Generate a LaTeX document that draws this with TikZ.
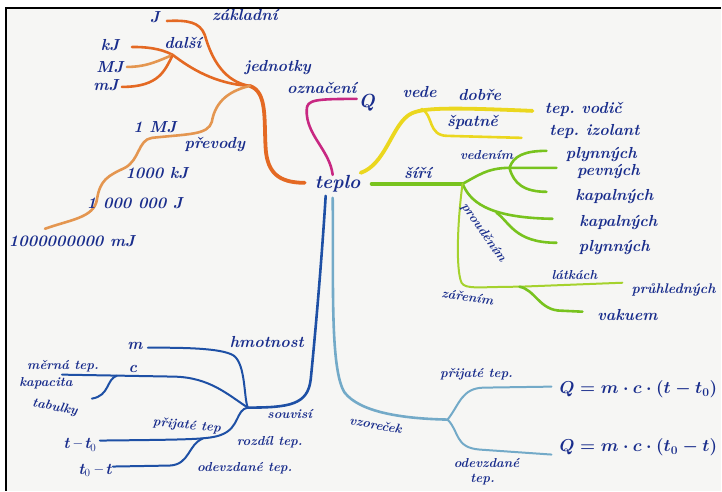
\documentclass[tikz,border=0pt]{standalone}
\usepackage{fontspec}
\definecolor{ink}{RGB}{25,45,140}
\definecolor{paper}{RGB}{246,246,244}
\definecolor{orA}{RGB}{228,105,35}
\definecolor{orB}{RGB}{228,150,80}
\definecolor{mag}{RGB}{200,40,130}
\definecolor{yel}{RGB}{235,215,30}
\definecolor{grA}{RGB}{120,195,30}
\definecolor{grB}{RGB}{165,210,45}
\definecolor{blA}{RGB}{30,80,165}
\definecolor{blB}{RGB}{115,170,200}
\begin{document}
\frenchspacing
\begin{tikzpicture}[x=1pt,y=-1pt,
  lab/.style={text=ink,font=\bfseries\itshape\fontsize{16}{18}\selectfont,inner sep=0pt},
  sml/.style={text=ink,font=\bfseries\itshape\fontsize{13}{15}\selectfont,inner sep=0pt},
  big/.style={text=ink,font=\bfseries\itshape\fontsize{19}{21}\selectfont,inner sep=0pt},
  eq/.style={text=ink,font=\boldmath\fontsize{18}{20}\selectfont,inner sep=0pt},
  trunk/.style={line width=3.8pt,line cap=round},
  twig/.style={line width=2.6pt,line cap=round},
  pen/.style={line width=2pt,line cap=round}]
% paper and frame
\fill[white] (0,0) rectangle (722,491);
\fill[paper] (6,8) rectangle (722,491);
\draw[black,line width=1.4pt] (6,491) -- (6,8) -- (722,8);
\useasboundingbox (0,0) rectangle (722,491);

% centre
\node[big] (teplo) at (338,184) {teplo};
\coordinate (tW) at (305,183);
\coordinate (tN) at (333,175);
\coordinate (tNE) at (361,173);
\coordinate (tE) at (372,184);
\coordinate (tS1) at (326,196);
\coordinate (tS2) at (333,198);

% ---------- orange: jednotky ----------
\coordinate (oHub) at (250,86);
\coordinate (oJ) at (167,21);
\coordinate (oD) at (173,55);
\coordinate (okJ) at (132,47);
\coordinate (oMJ) at (127,67);
\coordinate (omJ) at (122,87);
\coordinate (oEnd) at (45,229);
\draw[orA,trunk] (tW) .. controls (278,183) and (268,172) .. (266,150)
   .. controls (264,120) and (268,92) .. (oHub);
\draw[orA,twig] (oHub) .. controls (225,82) and (212,60) .. (205,35)
   .. controls (200,22) and (188,20) .. (oJ);
\draw[orA,twig] (oHub) .. controls (215,84) and (190,68) .. (oD)
   .. controls (160,48) and (145,47) .. (okJ);
\draw[orB,twig] (oD) .. controls (160,60) and (148,67) .. (oMJ);
\draw[orA,twig] (oD) .. controls (165,70) and (160,87) .. (omJ);
\draw[orB,twig] (oHub) .. controls (225,92) and (215,105) .. (212,122)
   .. controls (208,135) and (190,134) .. (152,138)
   .. controls (138,140) and (140,160) .. (125,168)
   .. controls (108,176) and (100,180) .. (97,200)
   .. controls (94,218) and (70,220) .. (oEnd);
\node[lab] (nJ) at (155,17) {J};
\node[lab] (nzakl) at (245,15) {základní};
\node[lab] (ndalsi) at (183,43) {další};
\node[lab] (nkJ) at (110,45) {kJ};
\node[lab] (nMJ) at (110,67) {MJ};
\node[lab] (nmJ) at (106,85) {mJ};
\node[lab] (njedn) at (278,68) {jednotky};
\node[lab] (n1MJ) at (155,127) {1 MJ};
\node[lab] (nprev) at (215,145) {převody};
\node[lab] (n1000k) at (157,173) {1000 kJ};
\node[lab] (nmil) at (135,203) {1 000 000 J};
\node[lab] (nmld) at (72,241) {1000000000 mJ};

% ---------- magenta: označení ----------
\coordinate (mQ) at (357,99);
\draw[mag,twig] (tN) .. controls (330,150) and (306,135) .. (307,110)
   .. controls (307,100) and (315,99) .. (mQ);
\node[lab] (noznac) at (322,88) {označení};
\node[big] (nQ) at (367,103) {Q};

% ---------- yellow: vede ----------
\coordinate (yJ) at (422,109);
\coordinate (yE1) at (533,111);
\coordinate (yE2) at (522,138);
\draw[yel,trunk] (tNE) .. controls (385,165) and (392,128) .. (408,116)
   .. controls (418,108) and (440,107) .. (yE1);
\draw[yel,twig] (yJ) .. controls (434,115) and (428,136) .. (448,136) -- (yE2);
\node[lab] (nvede) at (420,92) {vede};
\node[lab] (ndobre) at (480,95) {dobře};
\node[lab] (nspatne) at (473,123) {špatně};
\node[lab] (nvodic) at (584,110) {tep. vodič};
\node[lab] (nizol) at (595,132) {tep. izolant};

% ---------- green: šíří ----------
\coordinate (gJ) at (463,184);
\coordinate (gV) at (510,168);
\coordinate (gV1) at (547,151);
\coordinate (gV2) at (557,168);
\coordinate (gV3) at (547,192);
\coordinate (gP) at (497,213);
\coordinate (gP1) at (553,219);
\coordinate (gP2) at (557,243);
\coordinate (gZ) at (520,287);
\coordinate (gZ1) at (623,283);
\coordinate (gZ2) at (583,312);
\draw[grA,trunk] (tE) -- (gJ);
\draw[grA,twig] (gJ) .. controls (478,176) and (488,168) .. (gV) -- (gV2);
\draw[grA,twig] (gV) .. controls (514,156) and (525,151) .. (gV1);
\draw[grA,twig] (gV) .. controls (514,184) and (525,192) .. (gV3);
\draw[grA,twig] (gJ) .. controls (470,200) and (485,218) .. (gP1);
\draw[grA,twig] (gP) .. controls (510,222) and (515,243) .. (gP2);
\draw[grB,pen] (gJ) .. controls (458,220) and (456,270) .. (462,283)
   .. controls (466,290) and (480,287) .. (gZ) -- (gZ1);
\draw[grA,twig] (gZ) .. controls (536,290) and (540,311) .. (562,311) -- (gZ2);
\node[lab] (nsiri) at (418,173) {šíří};
\node[sml] (nveden) at (487,155) {vedením};
\node[lab] (npl1) at (602,155) {plynných};
\node[lab] (npev) at (609,172) {pevných};
\node[lab] (nkap1) at (615,197) {kapalných};
\node[sml,rotate=-55] (nproud) at (484,233) {prouděním};
\node[lab] (nkap2) at (619,223) {kapalných};
\node[lab] (npl2) at (615,248) {plynných};
\node[sml,rotate=-8] (nzar) at (468,297) {zářením};
\node[sml] (nlat) at (575,275) {látkách};
\node[lab,font=\bfseries\itshape\fontsize{14}{16}\selectfont,anchor=west] (nprh) at (632,290) {průhledných};
\node[lab] (nvak) at (628,315) {vakuem};

% ---------- dark blue: souvisí ----------
\coordinate (bH) at (248,408);
\coordinate (bm) at (148,348);
\coordinate (bc) at (62,375);
\coordinate (bT) at (117,376);
\coordinate (bTe) at (92,399);
\coordinate (bS) at (203,439);
\coordinate (bS1) at (100,441);
\coordinate (bS2) at (113,467);
\draw[blA,twig] (tS1) .. controls (322,260) and (316,330) .. (311,380)
   .. controls (308,405) and (290,408) .. (bH);
\draw[blA,pen] (bH) .. controls (244,398) and (246,365) .. (234,356)
   .. controls (222,348) and (180,348) .. (bm);
\draw[blA,pen] (bH) .. controls (228,395) and (210,378) .. (175,377) -- (bc);
\draw[blA,pen] (bT) .. controls (106,380) and (110,396) .. (bTe);
\draw[blA,pen] (bH) .. controls (236,410) and (240,428) .. (222,435)
   .. controls (210,440) and (190,440) .. (bS1);
\draw[blA,pen] (bS) .. controls (188,445) and (190,465) .. (170,466) -- (bS2);
\node[lab] (nhmot) at (267,342) {hmotnost};
\node[lab] (nm) at (135,346) {m};
\node[lab] (nc) at (133,369) {c};
\node[sml] (nmerna) at (63,367) {měrná tep.};
\node[sml] (nkapac) at (46,384) {kapacita};
\node[sml,rotate=-10] (ntab) at (55,408) {tabulky};
\node[sml] (nsouv) at (290,414) {souvisí};
\node[sml,rotate=-5] (nprij1) at (187,426) {přijaté tep};
\node[sml] (nrozd) at (270,443) {rozdíl tep.};
\node[sml] (nodev1) at (245,469) {odevzdané tep.};
\node[lab] (ntt0) at (80,445) {t\,--\,t$_0$};
\node[lab] (nt0t) at (95,471) {t$_0$\,--\,t};

% ---------- light blue: vzoreček ----------
\coordinate (lJ) at (448,420);
\coordinate (lE1) at (552,387);
\coordinate (lE2) at (552,455);
\draw[blB,twig] (tS2) .. controls (334,280) and (330,370) .. (345,393)
   .. controls (360,412) and (400,419) .. (lJ);
\draw[blB,pen] (lJ) .. controls (460,405) and (462,388) .. (485,388) -- (lE1);
\draw[blB,pen] (lJ) .. controls (460,432) and (455,448) .. (480,450) -- (lE2);
\node[sml,rotate=-10] (nvzor) at (376,425) {vzoreček};
\node[sml] (nprij2) at (477,375) {přijaté tep.};
\node[sml] (nodev2) at (487,463) {odevzdané};
\node[sml] (ntep) at (483,480) {tep.};
\node[eq,anchor=west] (neq1) at (560,390) {$Q=m\cdot c\cdot(t-t_0)$};
\node[eq,anchor=west] (neq2) at (560,448) {$Q=m\cdot c\cdot(t_0-t)$};
\end{tikzpicture}
\end{document}
